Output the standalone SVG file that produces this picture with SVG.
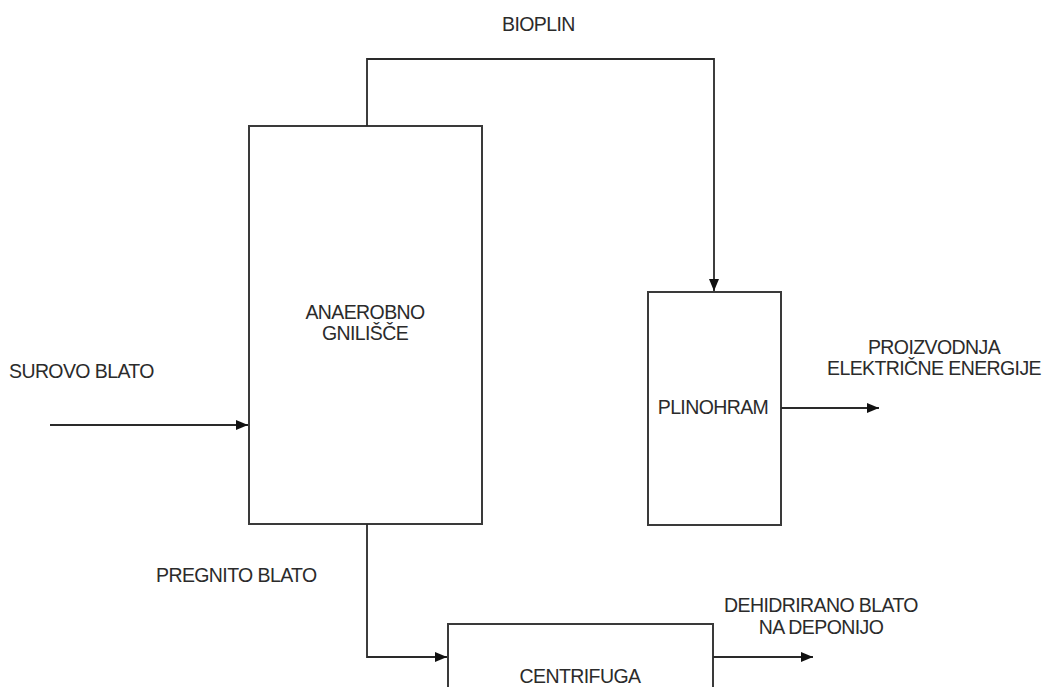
<svg xmlns="http://www.w3.org/2000/svg" width="1044" height="687" viewBox="0 0 1044 687">
  <style>
    .box { fill: #ffffff; stroke: #3a3a3a; stroke-width: 2; }
    .flow { fill: none; stroke: #2a2a2a; stroke-width: 1.8; }
    .lbl { font-family: "Liberation Sans", Arial, sans-serif; font-size: 19.5px; letter-spacing: -0.6px; fill: #2b2b2b; }
    .mid { text-anchor: middle; }
  </style>
  <defs>
    <marker id="arrow" viewBox="0 0 12 10" refX="12" refY="5" markerWidth="12" markerHeight="10" markerUnits="userSpaceOnUse" orient="auto">
      <path d="M0,0 L12,5 L0,10 Z" fill="#111111"/>
    </marker>
  </defs>
  <rect width="1044" height="687" fill="#ffffff"/>

  <!-- process units -->
  <g id="gnilisce">
    <rect class="box" x="249" y="126" width="233" height="398"/>
    <text class="lbl mid" x="365" y="319">ANAEROBNO</text>
    <text class="lbl mid" x="365" y="340">GNILIŠČE</text>
  </g>
  <g id="plinohram">
    <rect class="box" x="648" y="292" width="133" height="233"/>
    <text class="lbl mid" x="713" y="414">PLINOHRAM</text>
  </g>
  <g id="centrifuga">
    <rect class="box" x="448" y="624" width="265" height="80"/>
    <text class="lbl mid" x="580" y="683">CENTRIFUGA</text>
  </g>

  <!-- stream lines -->
  <g id="connectors">
    <path class="flow" d="M50,425 L248,425" marker-end="url(#arrow)"/>
    <path class="flow" d="M367,126 L367,59 L714,59 L714,291" marker-end="url(#arrow)"/>
    <path class="flow" d="M781,408 L879,408" marker-end="url(#arrow)"/>
    <path class="flow" d="M367,524 L367,657 L447,657" marker-end="url(#arrow)"/>
    <path class="flow" d="M713,657 L813,657" marker-end="url(#arrow)"/>
  </g>

  <!-- stream labels -->
  <g id="labels">
    <text class="lbl" x="502" y="31">BIOPLIN</text>
    <text class="lbl" x="9" y="378">SUROVO BLATO</text>
    <text class="lbl mid" x="934" y="354">PROIZVODNJA</text>
    <text class="lbl mid" x="934" y="375">ELEKTRIČNE ENERGIJE</text>
    <text class="lbl" x="156" y="582">PREGNITO BLATO</text>
    <text class="lbl mid" x="821" y="612">DEHIDRIRANO BLATO</text>
    <text class="lbl mid" x="821" y="634">NA DEPONIJO</text>
  </g>
</svg>
